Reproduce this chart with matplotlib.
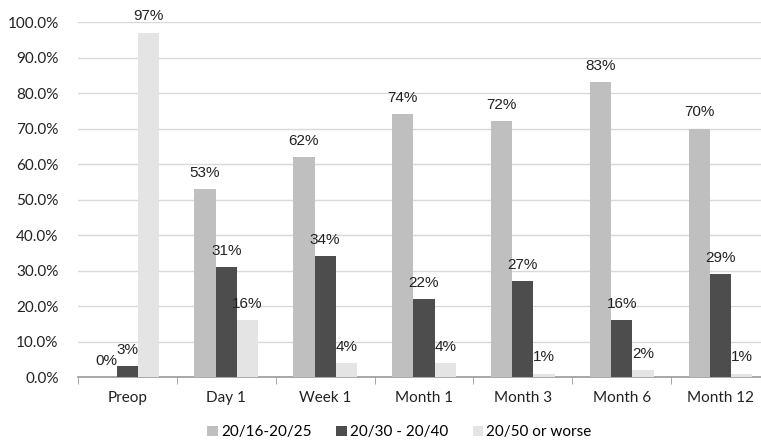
import numpy as np
import matplotlib.pyplot as plt
from matplotlib.ticker import FixedLocator, FuncFormatter

# Visual acuity groups over follow-up visits (percent of eyes)
visits = ["Preop", "Day 1", "Week 1", "Month 1", "Month 3", "Month 6", "Month 12"]
series_names = ["20/16-20/25", "20/30 - 20/40", "20/50 or worse"]
good = [0, 53, 62, 74, 72, 83, 70]
mid = [3, 31, 34, 22, 27, 16, 29]
poor = [97, 16, 4, 4, 1, 2, 1]

colors = ["#bfbfbf", "#4d4d4d", "#e4e4e4"]
tick_font = "Lato"
label_font = "Liberation Sans"

fig = plt.figure(figsize=(7.61, 4.40), dpi=100)
ax = fig.add_axes([0.1025, 0.143, 0.9093, 0.807])

x = np.arange(len(visits))
w = 0.215
for i, (vals, name, c) in enumerate(zip([good, mid, poor], series_names, colors)):
    pos = x + (i - 1) * w
    ax.bar(pos, vals, width=w, color=c, label=name, zorder=3)
    for xp, v in zip(pos, vals):
        ax.text(xp, v + 2.6, f"{v}%", ha="center", va="bottom",
                fontsize=11, family=label_font, color="#222222", zorder=4)

ax.set_xlim(-0.5, len(visits) - 0.5)
ax.set_ylim(0, 100)
ax.set_yticks(np.arange(0, 101, 10))
ax.yaxis.set_major_formatter(FuncFormatter(lambda v, p: f"{v:.1f}%"))
ax.grid(axis="y", color="#d9d9d9", linewidth=1, zorder=0)
ax.set_axisbelow(True)

ax.set_xticks(x)
ax.set_xticklabels(visits)
ax.xaxis.set_minor_locator(FixedLocator(np.arange(-0.5, len(visits), 1)))
ax.tick_params(axis="x", which="major", length=0, pad=10)
ax.tick_params(axis="x", which="minor", length=5, color="#999999", direction="out")
ax.tick_params(axis="y", length=0, pad=14)
for lbl in ax.get_xticklabels() + ax.get_yticklabels():
    lbl.set_fontfamily(tick_font)
    lbl.set_fontsize(11)
    lbl.set_color("#222222")

for s in ["top", "right", "left"]:
    ax.spines[s].set_visible(False)
ax.spines["bottom"].set_color("#999999")
ax.spines["bottom"].set_linewidth(1.2)

fig.legend(loc="lower center", ncol=3, bbox_to_anchor=(0.525, -0.03), frameon=False,
           handlelength=0.7, handleheight=0.7, handletextpad=0.2, columnspacing=1.6,
           prop={"family": tick_font, "size": 11})

fig.savefig("out.png", dpi=100)
